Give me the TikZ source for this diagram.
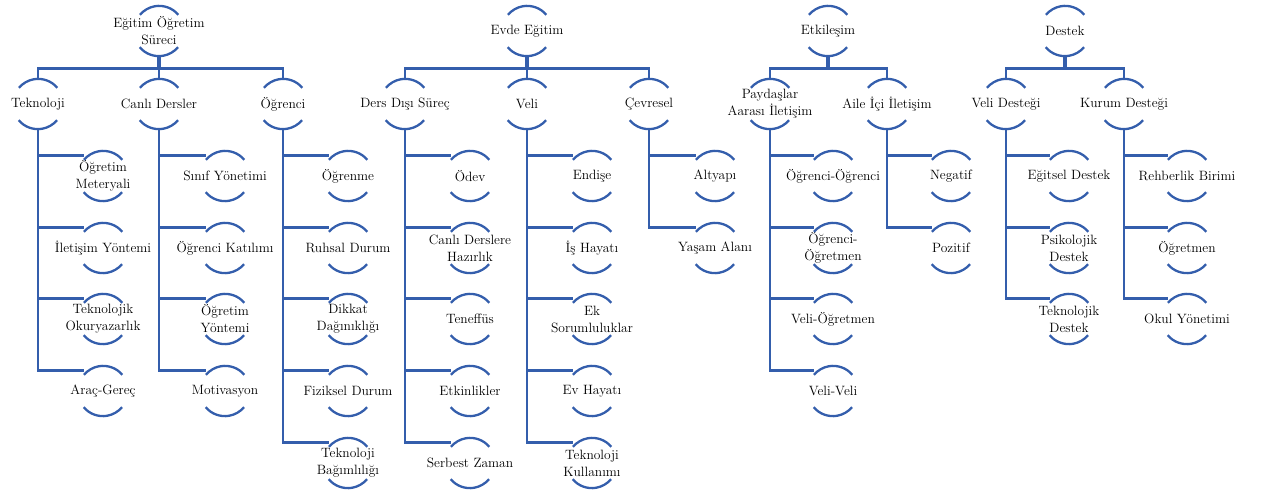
\documentclass[tikz,border=0pt]{standalone}
\usepackage{fontspec}
\definecolor{linkblue}{RGB}{52,94,172}
\tikzset{
  txt/.style={align=center, inner sep=0pt, font=\fontsize{13.5}{17}\selectfont},
  unit/.style={circle, minimum size=50pt, inner sep=0pt, label={[txt]center:{#1}}},
  link/.style={draw=linkblue, line width=2.8pt},
  rim/.style={draw=linkblue, line width=2.3pt},
}
\begin{document}
\begin{tikzpicture}[x=1pt,y=1pt]
      \useasboundingbox (0,0) rectangle (1262,-492);
      % Egitim Ogretim Sureci
      \node[unit={Eğitim Öğretim\\Süreci}] (egitim) at (159,-31) {};
      \node[unit={Teknoloji}] (teknoloji) at (38,-104) {};
      \node[unit={Canlı Dersler}] (canli) at (159,-104) {};
      \node[unit={Öğrenci}] (ogrenci) at (283,-104) {};
      \node[unit={Öğretim\\Meteryali}] (materyal) at (103,-176) {};
      \node[unit={İletişim Yöntemi}] (iletisim) at (103,-248) {};
      \node[unit={Teknolojik\\Okuryazarlık}] (okuryazar) at (103,-319) {};
      \node[unit={Araç-Gereç}] (arac) at (103,-391) {};
      \node[unit={Sınıf Yönetimi}] (sinif) at (225,-176) {};
      \node[unit={Öğrenci Katılımı}] (katilim) at (225,-248) {};
      \node[unit={Öğretim\\Yöntemi}] (yontem) at (225,-319) {};
      \node[unit={Motivasyon}] (motivasyon) at (225,-391) {};
      \node[unit={Öğrenme}] (ogrenme) at (348,-176) {};
      \node[unit={Ruhsal Durum}] (ruhsal) at (348,-248) {};
      \node[unit={Dikkat\\Dağınıklığı}] (dikkat) at (348,-319) {};
      \node[unit={Fiziksel Durum}] (fiziksel) at (348,-391) {};
      \node[unit={Teknoloji\\Bağımlılığı}] (bagimlilik) at (348,-463) {};
      % Evde Egitim
      \node[unit={Evde Eğitim}] (evde) at (527,-31) {};
      \node[unit={Ders Dışı Süreç}] (disi) at (405,-104) {};
      \node[unit={Veli}] (veli) at (527,-104) {};
      \node[unit={Çevresel}] (cevre) at (649,-104) {};
      \node[unit={Ödev}] (odev) at (470,-176) {};
      \node[unit={Canlı Derslere\\Hazırlık}] (hazirlik) at (470,-248) {};
      \node[unit={Teneffüs}] (teneffus) at (470,-319) {};
      \node[unit={Etkinlikler}] (etkinlik) at (470,-391) {};
      \node[unit={Serbest Zaman}] (serbest) at (470,-463) {};
      \node[unit={Endişe}] (endise) at (592,-176) {};
      \node[unit={İş Hayatı}] (ishayati) at (592,-248) {};
      \node[unit={Ek\\Sorumluluklar}] (sorumluluk) at (592,-319) {};
      \node[unit={Ev Hayatı}] (evhayati) at (592,-391) {};
      \node[unit={Teknoloji\\Kullanımı}] (kullanim) at (592,-463) {};
      \node[unit={Altyapı}] (altyapi) at (715,-176) {};
      \node[unit={Yaşam Alanı}] (yasam) at (715,-248) {};
      % Etkilesim
      \node[unit={Etkileşim}] (etkilesim) at (828,-31) {};
      \node[unit={Paydaşlar\\Aarası İletişim}] (paydas) at (770,-104) {};
      \node[unit={Aile İçi İletişim}] (aile) at (887,-104) {};
      \node[unit={Öğrenci-Öğrenci}] (ogrogr) at (833,-176) {};
      \node[unit={Öğrenci-\\Öğretmen}] (ogrogrt) at (833,-248) {};
      \node[unit={Veli-Öğretmen}] (veliogrt) at (833,-319) {};
      \node[unit={Veli-Veli}] (veliveli) at (833,-391) {};
      \node[unit={Negatif}] (negatif) at (951,-176) {};
      \node[unit={Pozitif}] (pozitif) at (951,-248) {};
      % Destek
      \node[unit={Destek}] (destek) at (1065,-31) {};
      \node[unit={Veli Desteği}] (velides) at (1006,-104) {};
      \node[unit={Kurum Desteği}] (kurum) at (1124,-104) {};
      \node[unit={Eğitsel Destek}] (egitsel) at (1069,-176) {};
      \node[unit={Psikolojik\\Destek}] (psikolojik) at (1069,-248) {};
      \node[unit={Teknolojik\\Destek}] (teknodes) at (1069,-319) {};
      \node[unit={Rehberlik Birimi}] (rehberlik) at (1187,-176) {};
      \node[unit={Öğretmen}] (ogretmen) at (1187,-248) {};
      \node[unit={Okul Yönetimi}] (okul) at (1187,-319) {};
      % arcs
      \foreach \n in {egitim,teknoloji,canli,ogrenci,materyal,iletisim,okuryazar,arac,
          sinif,katilim,yontem,motivasyon,ogrenme,ruhsal,dikkat,fiziksel,bagimlilik,
          evde,disi,veli,cevre,odev,hazirlik,teneffus,etkinlik,serbest,
          endise,ishayati,sorumluluk,evhayati,kullanim,altyapi,yasam,
          etkilesim,paydas,aile,ogrogr,ogrogrt,veliogrt,veliveli,negatif,pozitif,
          destek,velides,kurum,egitsel,psikolojik,teknodes,rehberlik,ogretmen,okul}{
        \draw[rim] (\n.40) arc[start angle=40, end angle=140, radius=25pt];
        \draw[rim] (\n.220) arc[start angle=220, end angle=320, radius=25pt];
      }
      % first level
      \foreach \p/\c in {egitim/teknoloji,egitim/canli,egitim/ogrenci,
          evde/disi,evde/veli,evde/cevre,etkilesim/paydas,etkilesim/aile,
          destek/velides,destek/kurum}
        \draw[link] (\p.south) -- ++(0,-12) -| (\c.north);
      \foreach \p in {egitim,evde,etkilesim,destek}
        \draw[link, line width=4.5pt] (\p.south) -- ++(0,-12);
      % second level
      \foreach \p/\c in {teknoloji/materyal,teknoloji/iletisim,teknoloji/okuryazar,teknoloji/arac,
          canli/sinif,canli/katilim,canli/yontem,canli/motivasyon,
          ogrenci/ogrenme,ogrenci/ruhsal,ogrenci/dikkat,ogrenci/fiziksel,ogrenci/bagimlilik,
          disi/odev,disi/hazirlik,disi/teneffus,disi/etkinlik,disi/serbest,
          veli/endise,veli/ishayati,veli/sorumluluk,veli/evhayati,veli/kullanim,
          cevre/altyapi,cevre/yasam,
          paydas/ogrogr,paydas/ogrogrt,paydas/veliogrt,paydas/veliveli,
          aile/negatif,aile/pozitif,
          velides/egitsel,velides/psikolojik,velides/teknodes,
          kurum/rehberlik,kurum/ogretmen,kurum/okul}
        \draw[link] (\p.south) |- (\c.140 |- \c.127);
    \end{tikzpicture}
\end{document}
